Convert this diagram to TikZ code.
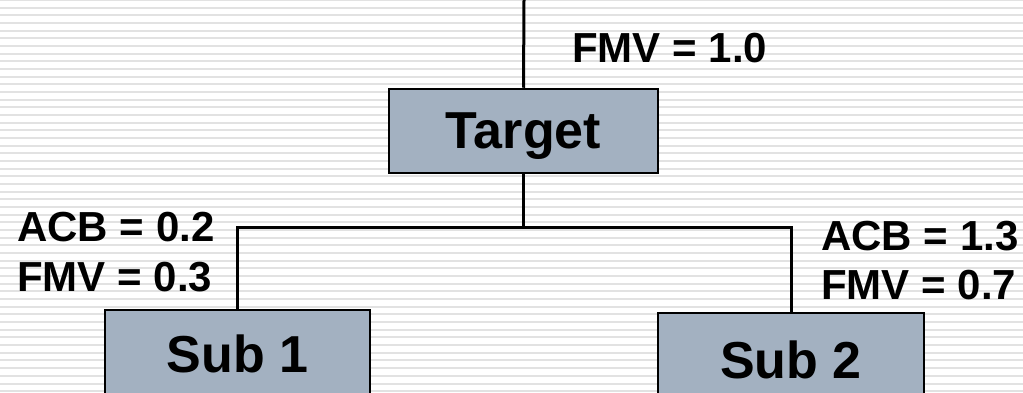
\documentclass[tikz,border=0pt]{standalone}
\usepackage{fontspec}
\setmainfont{Liberation Sans}
\definecolor{boxfill}{HTML}{A3B1C1}
\definecolor{stripegray}{HTML}{E2E2E2}
\tikzset{
  entity/.style={draw=black, line width=2.5pt, fill=boxfill, inner sep=0pt,
    text depth=0pt, font=\fontsize{52}{60}\selectfont\bfseries},
  value/.style={inner sep=0pt, anchor=base west, text depth=0pt,
    font=\fontsize{42}{50}\selectfont\bfseries},
  link/.style={draw=black, line width=3pt}
}
\begin{document}
\begin{tikzpicture}[x=1pt,y=-1pt]
\useasboundingbox (0,0) rectangle (1023,393);
\clip (0,0) rectangle (1023,393);
% ruled background
\foreach \k in {0,...,52}
  \fill[stripegray] (0,\k*7.67-1) rectangle (1023,\k*7.67+1);

% ownership boxes
\node[entity, minimum width=269pt, minimum height=84pt] (target) at (523.5,131) {Target};
\node[entity, minimum width=265pt, minimum height=88pt] (sub1) at (237.5,354) {Sub 1};
\node[entity, minimum width=266pt, minimum height=94pt] (sub2) at (791,360) {Sub 2};

% connectors
\coordinate (top) at (524,0);
\coordinate (split) at (target.south |- 0,227);
\draw[link] (top) -- (target.north);
\draw[link] (target.south) -- (split);
\draw[link] (split) -| (sub1.north);
\draw[link] (split) -| (sub2.north);

% values
\node[value] (fmvT) at (572,63) {FMV = 1.0};
\node[value] (acb1) at (17,241) {ACB = 0.2};
\node[value] (fmv1) at (17,291) {FMV = 0.3};
\node[value] (acb2) at (821,250) {ACB = 1.3};
\node[value] (fmv2) at (821,299) {FMV = 0.7};
\end{tikzpicture}
\end{document}
